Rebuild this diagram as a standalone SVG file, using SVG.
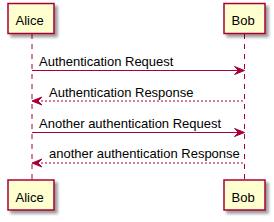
<svg xmlns="http://www.w3.org/2000/svg" width="274" height="222" viewBox="0 0 274 222">
<defs>
<filter id="sh" x="-20%" y="-20%" width="150%" height="160%">
<feGaussianBlur in="SourceAlpha" stdDeviation="1.5" result="b"/>
<feOffset in="b" dx="3" dy="3" result="o"/>
<feComponentTransfer in="o" result="o2"><feFuncA type="linear" slope="0.4"/></feComponentTransfer>
<feMerge><feMergeNode in="o2"/><feMergeNode in="SourceGraphic"/></feMerge>
</filter>
</defs>
<style>
.box{fill:#FEFECE;stroke:#A80036;stroke-width:1.5;filter:url(#sh)}
.life{stroke:#A80036;stroke-width:1;stroke-dasharray:5,5}
.msg{stroke:#A80036;stroke-width:1;fill:none}
.ret{stroke:#A80036;stroke-width:1;fill:none;stroke-dasharray:2,2}
.head{fill:#A80036;stroke:#A80036;stroke-width:1}
text{font-family:"Liberation Sans",Arial,sans-serif;font-size:13px;fill:#000}
</style>
<g id="lifelines">
<line class="life" x1="32" y1="34" x2="32" y2="180"/>
<line class="life" x1="244.5" y1="34" x2="244.5" y2="180"/>
</g>
<g id="alice-top"><rect class="box" x="8" y="3.5" width="46" height="30"/><text x="15.5" y="25">Alice</text></g>
<g id="bob-top"><rect class="box" x="224" y="3.5" width="41" height="30"/><text x="231.5" y="25">Bob</text></g>
<g id="alice-bottom"><rect class="box" x="8" y="180" width="46" height="30"/><text x="15.5" y="201.5">Alice</text></g>
<g id="bob-bottom"><rect class="box" x="224" y="180" width="41" height="30"/><text x="231.5" y="201.5">Bob</text></g>
<g id="connectors">
<line class="msg" x1="32" y1="70.5" x2="243" y2="70.5"/>
<polygon class="head" points="234.5,66.5 244.5,70.5 234.5,74.5 238.5,70.5"/>
<text x="39" y="66">Authentication Request</text>
<line class="ret" x1="33" y1="101" x2="244.5" y2="101"/>
<polygon class="head" points="42,97 32,101 42,105 38,101"/>
<text x="49" y="96.5">Authentication Response</text>
<line class="msg" x1="32" y1="132.5" x2="243" y2="132.5"/>
<polygon class="head" points="234.5,128.5 244.5,132.5 234.5,136.5 238.5,132.5"/>
<text x="39" y="128">Another authentication Request</text>
<line class="ret" x1="33" y1="163" x2="244.5" y2="163"/>
<polygon class="head" points="42,159 32,163 42,167 38,163"/>
<text x="49" y="158">another authentication Response</text>
</g>
</svg>
